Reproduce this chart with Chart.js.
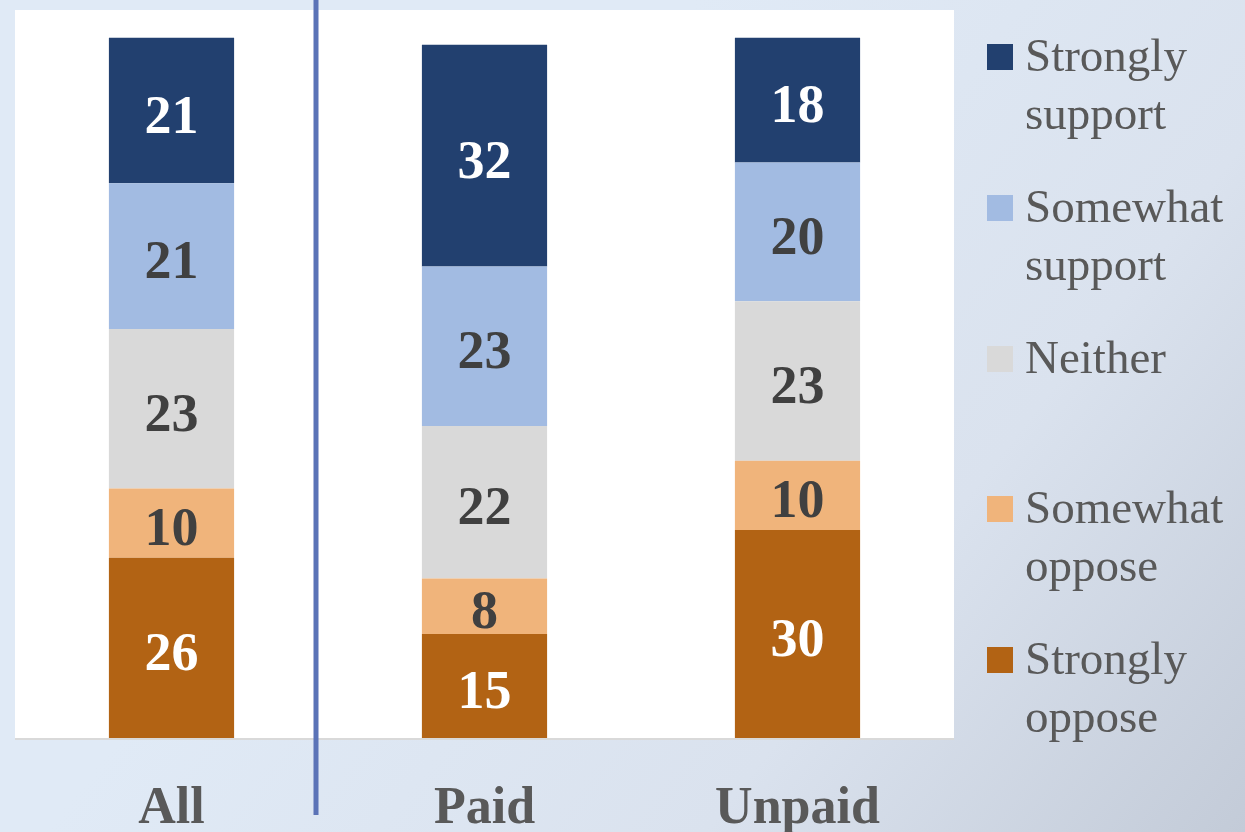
<!DOCTYPE html>
<html>
<head>
<meta charset="utf-8">
<script src="https://cdn.jsdelivr.net/npm/chart.js@4"></script>
<style>
  html, body { margin: 0; padding: 0; background: #e0eaf6; }
  canvas { display: block; }
</style>
</head>
<body>
<canvas id="supportChart" width="1245" height="832"></canvas>
<script>
var groups = ["All", "Paid", "Unpaid"];

var stronglyOppose = [26, 15, 30];
var somewhatOppose = [10, 8, 10];
var neither = [23, 22, 23];
var somewhatSupport = [21, 23, 20];
var stronglySupport = [21, 32, 18];

var serif = "'Liberation Serif', 'DejaVu Serif', serif";

const data_support = {
  labels: groups,
  datasets: [
    { label: "Strongly oppose", data: stronglyOppose, backgroundColor: "#b26314", textColor: "#ffffff" },
    { label: "Somewhat oppose", data: somewhatOppose, backgroundColor: "#f0b47b", textColor: "#404040" },
    { label: "Neither", data: neither, backgroundColor: "#d9d9d9", textColor: "#404040" },
    { label: "Somewhat support", data: somewhatSupport, backgroundColor: "#a2bbe2", textColor: "#404040" },
    { label: "Strongly support", data: stronglySupport, backgroundColor: "#22406f", textColor: "#ffffff" },
  ],
};

// background, white plot area, divider line, labels and legend
const decorations = {
  id: "decorations",
  beforeDraw(chart) {
    const ctx = chart.ctx;
    const a = chart.chartArea;
    const g = ctx.createLinearGradient(500, 250, 1245, 832);
    g.addColorStop(0, "#e0eaf6");
    g.addColorStop(0.55, "#dae2ee");
    g.addColorStop(1, "#c3cbd8");
    ctx.save();
    ctx.fillStyle = g;
    ctx.fillRect(0, 0, chart.width, chart.height);
    ctx.fillStyle = "#ffffff";
    ctx.fillRect(a.left, a.top, a.right - a.left, a.bottom - a.top);
    ctx.restore();
  },
  afterDatasetsDraw(chart) {
    const ctx = chart.ctx;
    const a = chart.chartArea;
    ctx.save();
    // axis line
    ctx.strokeStyle = "#d9d9d9";
    ctx.lineWidth = 2;
    ctx.beginPath();
    ctx.moveTo(a.left, a.bottom + 1);
    ctx.lineTo(a.right, a.bottom + 1);
    ctx.stroke();

    // value labels inside the segments
    ctx.textAlign = "center";
    ctx.textBaseline = "alphabetic";
    ctx.font = "bold 54px " + serif;
    chart.data.datasets.forEach((ds, i) => {
      const meta = chart.getDatasetMeta(i);
      meta.data.forEach((bar, j) => {
        const mid = (bar.y + bar.base) / 2;
        ctx.fillStyle = ds.textColor;
        ctx.fillText(String(ds.data[j]), bar.x, mid + 22);
      });
    });

    // category labels
    const x = chart.scales.x;
    ctx.fillStyle = "#595959";
    ctx.font = "bold 52px " + serif;
    groups.forEach((g, j) => {
      ctx.fillText(g, x.getPixelForValue(j), 823);
    });

    // divider between All and the subgroups
    const divX = (x.getPixelForValue(0) + x.getPixelForValue(1)) / 2 - 12;
    ctx.strokeStyle = "#5b73b7";
    ctx.lineWidth = 5;
    ctx.beginPath();
    ctx.moveTo(divX, 0);
    ctx.lineTo(divX, 815);
    ctx.stroke();

    // legend, top to bottom in reverse stacking order
    ctx.textAlign = "left";
    ctx.font = "47px " + serif;
    const items = chart.data.datasets.slice().reverse();
    const tops = [44, 195, 346, 496, 647];
    items.forEach((ds, k) => {
      const top = tops[k];
      ctx.fillStyle = ds.backgroundColor;
      ctx.fillRect(987, top, 26, 26);
      ctx.fillStyle = "#595959";
      const words = ds.label.split(" ");
      words.forEach((w, l) => {
        ctx.fillText(w, 1025, top + 27 + l * 58);
      });
    });
    ctx.restore();
  },
};

const config_support = {
  type: "bar",
  data: data_support,
  options: {
    responsive: false,
    animation: false,
    devicePixelRatio: 1,
    layout: {
      padding: { left: 15, top: 10, right: 291, bottom: 94 },
    },
    datasets: {
      bar: {
        categoryPercentage: 1,
        barPercentage: 0.4,
      },
    },
    scales: {
      x: { stacked: true, display: false },
      y: { stacked: true, display: false, min: 0, max: 105 },
    },
    plugins: {
      legend: { display: false },
      tooltip: { enabled: false },
      title: { display: false },
    },
  },
  plugins: [decorations],
};

const supportChart = new Chart(document.getElementById("supportChart"), config_support);
</script>
</body>
</html>
